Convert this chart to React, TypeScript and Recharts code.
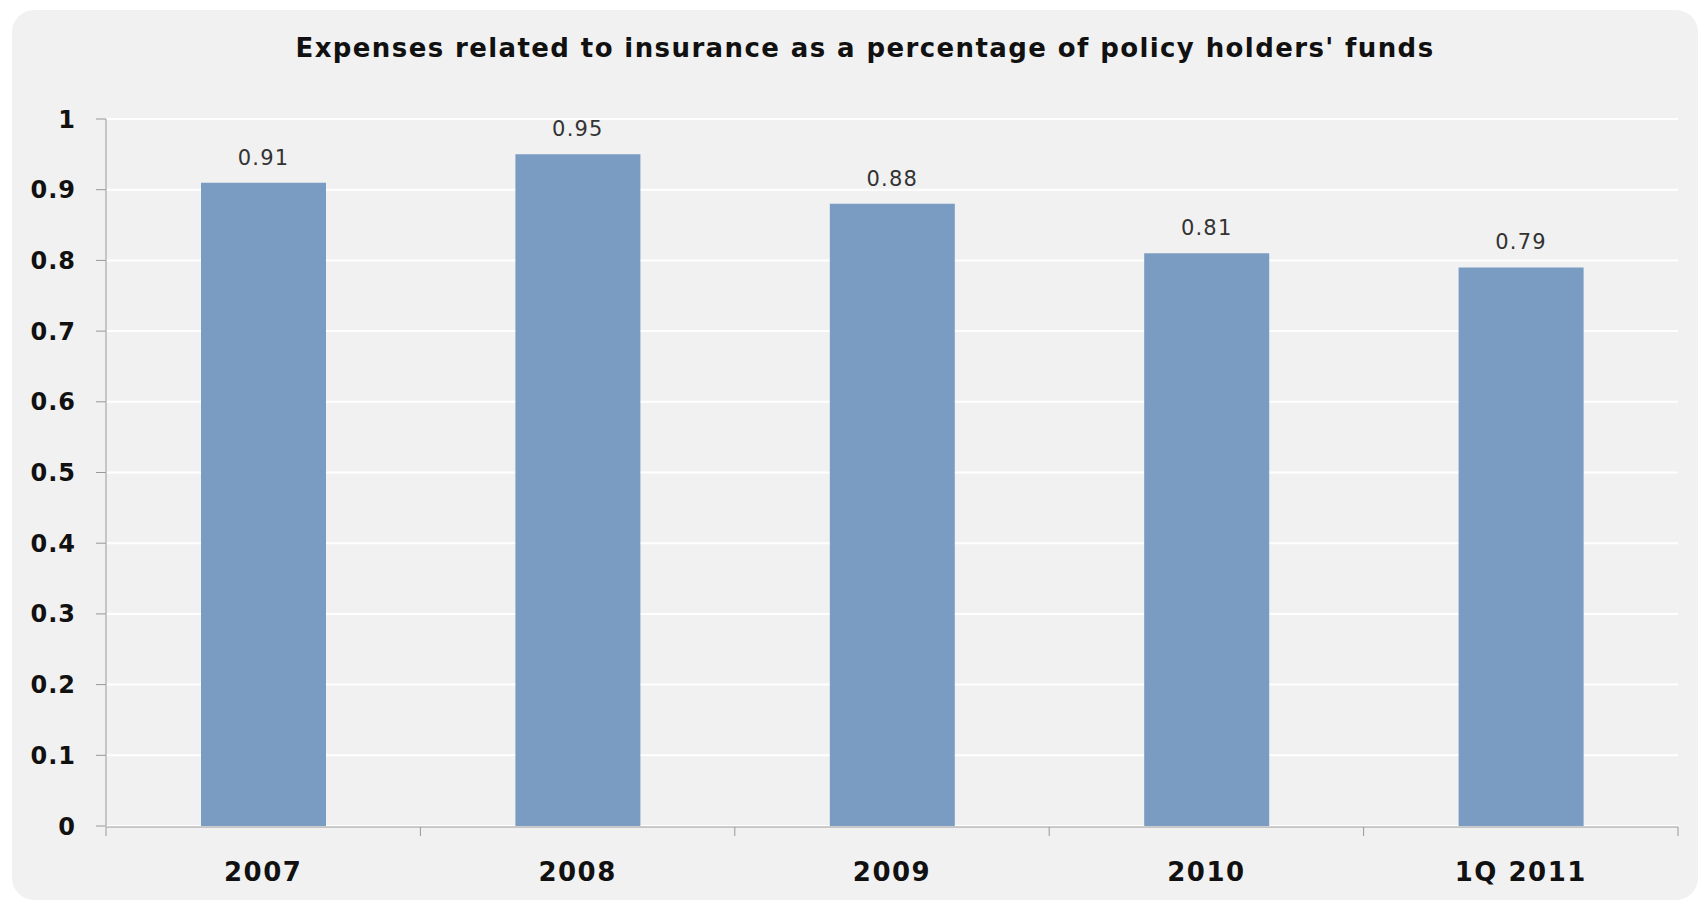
import { Bar, BarChart, CartesianGrid, LabelList, XAxis, YAxis } from "recharts";

const categories = ["2007", "2008", "2009", "2010", "1Q 2011"];
const expenseRatio = [0.91, 0.95, 0.88, 0.81, 0.79];
const yTicks = [0, 0.1, 0.2, 0.3, 0.4, 0.5, 0.6, 0.7, 0.8, 0.9, 1];
const edgeTicks = [0, 1, 2, 3, 4, 5];

const chartTitle = "Expenses related to insurance as a percentage of policy holders' funds";

// idx puts each category in the middle of its slot on the hidden numeric axis
const data = categories.map((name, i) => ({ name, value: expenseRatio[i], idx: i + 0.5 }));

const font = "'DejaVu Sans', Verdana, sans-serif";

export default function App() {
  return (
    <div style={{ position: "absolute", left: 0, top: 0, width: 1706, height: 908, background: "#fff", fontFamily: font }}>
      <div
        style={{
          position: "absolute",
          left: 12,
          top: 10,
          width: 1686,
          height: 890,
          borderRadius: 22,
          background: "#f1f1f1",
        }}
      />
      <div
        style={{
          position: "absolute",
          left: 0,
          top: 33,
          width: 1730,
          textAlign: "center",
          fontSize: 26,
          fontWeight: "bold",
          color: "#111",
          letterSpacing: 1.4,
        }}
      >
        {chartTitle}
      </div>
      <div style={{ position: "absolute", left: 0, top: 0 }}>
        <BarChart
          width={1706}
          height={908}
          data={data}
          margin={{ top: 119, right: 28, bottom: 80, left: 0 }}
        >
          <CartesianGrid horizontal vertical={false} stroke="#ffffff" strokeWidth={2} />
          <XAxis
            dataKey="name"
            height={1}
            axisLine={false}
            tickLine={false}
            tickSize={0}
            tickMargin={37}
            tick={{ fontSize: 26, fontWeight: "bold", fill: "#111", fontFamily: font, letterSpacing: 1.5 }}
          />
          <XAxis
            xAxisId="edges"
            type="number"
            dataKey="idx"
            domain={[0, 5]}
            ticks={edgeTicks}
            interval={0}
            height={1}
            tickSize={9}
            tickFormatter={() => ""}
            stroke="#999"
            allowDataOverflow
          />
          <YAxis
            width={106}
            domain={[0, 1]}
            ticks={yTicks}
            interval={0}
            tickSize={10}
            tickMargin={20}
            stroke="#999"
            tickFormatter={(v: number) => String(v)}
            tick={{ fontSize: 24, fontWeight: "bold", fill: "#111", fontFamily: font, letterSpacing: 1 }}
          />
          <Bar dataKey="value" fill="#7a9cc2" barSize={125} isAnimationActive={false}>
            <LabelList
              dataKey="value"
              position="top"
              offset={18}
              style={{ fontSize: 21, fill: "#333", fontFamily: font, letterSpacing: 1.2 }}
            />
          </Bar>
        </BarChart>
      </div>
    </div>
  );
}
